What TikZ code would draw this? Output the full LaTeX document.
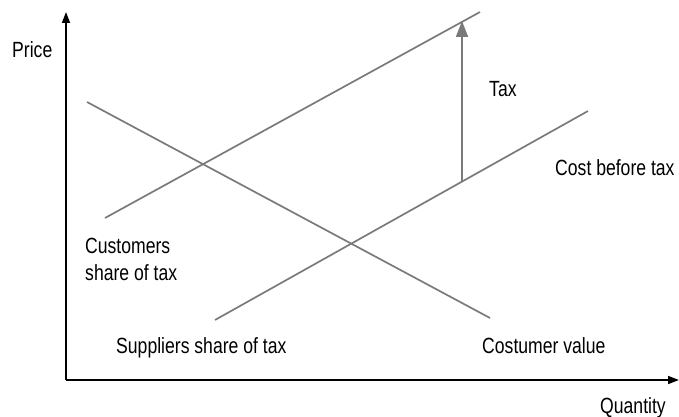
\documentclass[tikz,border=0pt]{standalone}
\usepackage{fontspec}
\setmainfont{Liberation Sans}[FakeStretch=0.8]
\usetikzlibrary{arrows.meta}
\begin{document}
\begin{tikzpicture}[x=1pt,y=-1pt,
  axis/.style={line width=1.6pt,draw=black,-{Triangle[length=11pt,width=8pt]}},
  curve/.style={line width=1.7pt,draw=black!52},
  lbl/.style={font=\fontsize{22}{27}\selectfont,text=black,inner sep=0pt,anchor=base west}]
\useasboundingbox (0,0) rectangle (679,417);
\coordinate (O) at (66,380);
\coordinate (Ytop) at (66,12);
\coordinate (Xend) at (679,380);
\draw[axis] (O) -- (Ytop);
\draw[axis] (O) -- (Xend);
% supply after tax
\coordinate (s1a) at (105,218);
\coordinate (s1b) at (480,12);
\draw[curve] (s1a) -- (s1b);
% cost before tax
\coordinate (s0a) at (215,320);
\coordinate (s0b) at (588,111);
\draw[curve] (s0a) -- (s0b);
% demand
\coordinate (da) at (87,102);
\coordinate (db) at (490,318);
\draw[curve] (da) -- (db);
% tax arrow
\coordinate (tb) at (462,182);
\coordinate (tt) at (462,21);
\draw[curve,-{Triangle[length=16pt,width=12pt]}] (tb) -- (tt);
\node[lbl] (price) at (12,58) {Price};
\node[lbl] (tax) at (489,96) {Tax};
\node[lbl] (cbt) at (555,175) {Cost before tax};
\node[lbl] (cst1) at (85,253) {Customers};
\node[lbl] (cst2) at (85,280) {share of tax};
\node[lbl] (sst) at (116,353) {Suppliers share of tax};
\node[lbl] (cv) at (482,353) {Costumer value};
\node[lbl] (q) at (600,413) {Quantity};
\end{tikzpicture}
\end{document}
